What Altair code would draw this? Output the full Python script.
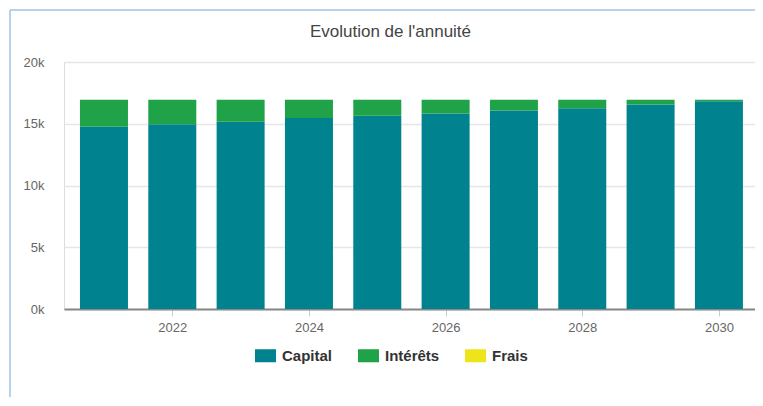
import altair as alt
import pandas as pd

years = [2021, 2022, 2023, 2024, 2025, 2026, 2027, 2028, 2029, 2030]
capital = [14760, 14950, 15170, 15460, 15650, 15840, 16080, 16250, 16550, 16820]
interets = [2175, 1985, 1765, 1475, 1285, 1095, 855, 685, 385, 115]
frais = [15, 15, 15, 15, 15, 15, 15, 15, 15, 15]

series = ["Capital", "Intérêts", "Frais"]
colors = ["#00828F", "#1FA248", "#EDE51A"]
x_ticks = [2022, 2024, 2026, 2028, 2030]
y_ticks = [0, 5000, 10000, 15000, 20000]

rows = []
for i, y in enumerate(years):
    for k, (name, vals) in enumerate(zip(series, [capital, interets, frais])):
        rows.append({"year": y, "serie": name, "value": vals[i], "ord": k})
df = pd.DataFrame(rows)

FONT = "Liberation Sans"

bars = alt.Chart(df).mark_bar(width=48).encode(
    x=alt.X(
        "year:Q",
        scale=alt.Scale(domain=[2020.415, 2030.528], nice=False, zero=False, padding=0),
        axis=alt.Axis(
            values=x_ticks, format="d", title=None, grid=False,
            domainColor="#888888", domainWidth=2,
            tickColor="#C0D0E0", tickSize=7, tickWidth=1,
            labelFont=FONT, labelFontSize=13, labelColor="#666666", labelPadding=5,
        ),
    ),
    y=alt.Y(
        "value:Q",
        stack="zero",
        scale=alt.Scale(domain=[0, 20000], nice=False),
        axis=alt.Axis(
            values=y_ticks, labelExpr="datum.value / 1000 + 'k'", title=None,
            domain=False, ticks=False, grid=True, gridColor="#E6E6E6", gridWidth=1.5,
            labelFont=FONT, labelFontSize=13, labelColor="#666666", labelPadding=20,
        ),
    ),
    color=alt.Color(
        "serie:N",
        scale=alt.Scale(domain=series, range=colors),
        legend=alt.Legend(
            title=None, orient="none", direction="horizontal",
            legendX=191, legendY=283, padding=0,
            symbolType="M-1,-0.62L1,-0.62L1,0.62L-1,0.62Z", symbolSize=441,
            symbolStrokeWidth=0, labelOffset=6, columnPadding=25,
            labelFont=FONT, labelFontSize=15, labelFontWeight="bold", labelColor="#333333",
        ),
    ),
    order=alt.Order("ord:Q", sort="ascending"),
)

frame_df = pd.DataFrame({"a": [0]})
left_line = alt.Chart(frame_df).mark_rule(color="#9CC3EA", strokeWidth=1.5).encode(
    x=alt.value(-54), y=alt.value(-52), y2=alt.value(360)
)
top_line = alt.Chart(frame_df).mark_rule(color="#9CC3EA", strokeWidth=1.5).encode(
    y=alt.value(-52), x=alt.value(-54), x2=alt.value(700)
)

chart = alt.layer(left_line, top_line, bars).properties(
    width=691,
    height=247,
    autosize=alt.AutoSizeParams(type="none"),
    padding={"left": 56, "top": 54, "right": 0, "bottom": 88},
    title=alt.Title(
        "Evolution de l'annuité", font=FONT, fontSize=17, fontWeight="normal",
        color="#444444", anchor="middle", frame="group", dx=-19, dy=36,
    ),
).configure_view(strokeWidth=0).configure(background="white")

chart.save("out.html", embed_options={"renderer": "svg", "actions": False})
